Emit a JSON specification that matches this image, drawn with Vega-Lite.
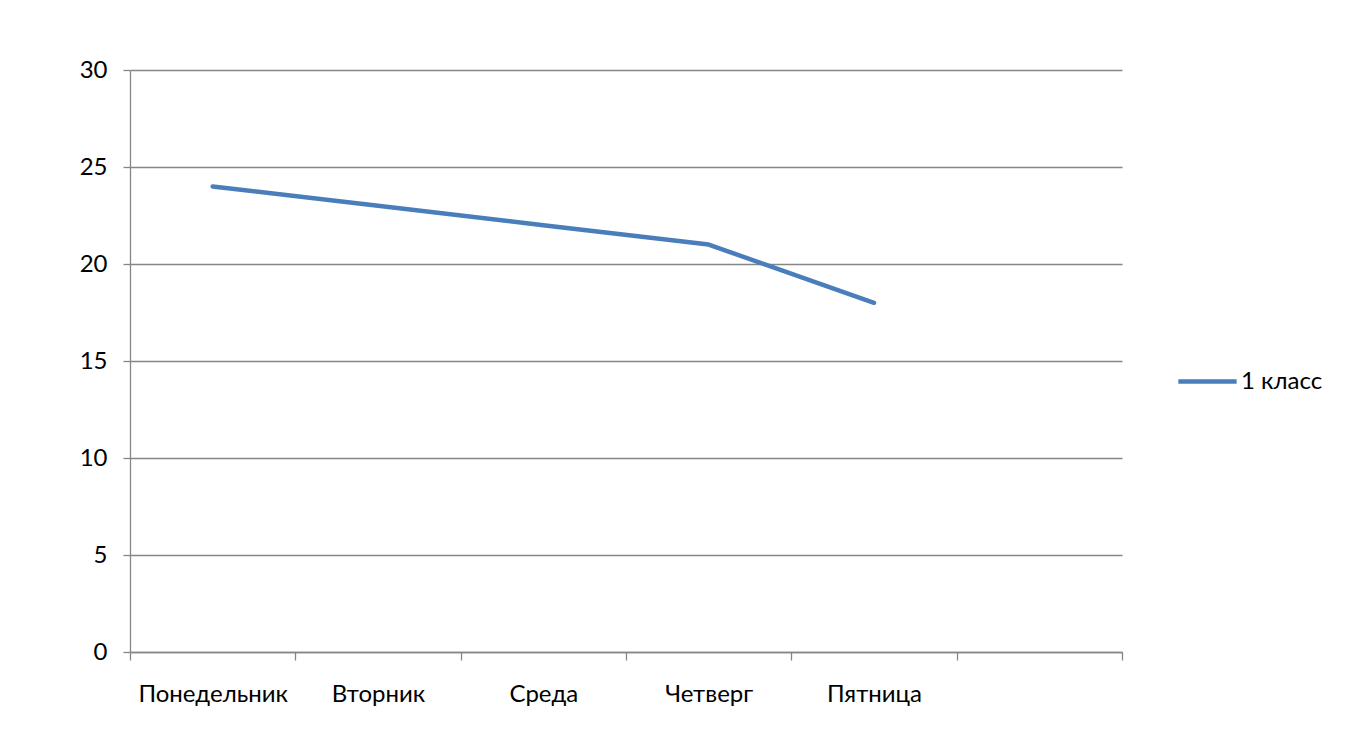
{
  "$schema": "https://vega.github.io/schema/vega-lite/v6.json",
  "width": 992,
  "height": 582,
  "autosize": {"type": "none"},
  "padding": {"left": 130, "top": 70, "right": 235, "bottom": 93},
  "background": "white",
  "config": {
    "view": {"stroke": null},
    "font": "Lato",
    "axis": {"labelFont": "Lato", "labelFontSize": 24, "labelColor": "#000000", "domainColor": "#868686", "tickColor": "#868686", "gridColor": "#868686", "domainWidth": 1.3, "tickWidth": 1.3, "gridWidth": 1.3}
  },
  "data": {
    "values": [
      {"day": "Понедельник", "value": 24, "series": "1 класс"},
      {"day": "Вторник", "value": 23, "series": "1 класс"},
      {"day": "Среда", "value": 22, "series": "1 класс"},
      {"day": "Четверг", "value": 21, "series": "1 класс"},
      {"day": "Пятница", "value": 18, "series": "1 класс"}
    ]
  },
  "mark": {"type": "line", "strokeWidth": 4.5, "strokeCap": "round", "strokeJoin": "round"},
  "encoding": {
    "x": {
      "field": "day",
      "type": "nominal",
      "sort": null,
      "scale": {"type": "band", "domain": ["Понедельник", "Вторник", "Среда", "Четверг", "Пятница", " "], "paddingInner": 0, "paddingOuter": 0},
      "axis": {"title": null, "labelAngle": 0, "tickBand": "extent", "tickSize": 8, "labelPadding": 22, "grid": false}
    },
    "y": {
      "field": "value",
      "type": "quantitative",
      "scale": {"domain": [0, 30], "nice": false, "zero": true},
      "axis": {"title": null, "values": [0, 5, 10, 15, 20, 25, 30], "tickSize": 7, "labelPadding": 16, "grid": true}
    },
    "color": {
      "field": "series",
      "type": "nominal",
      "scale": {"range": ["#4A7EBB"]},
      "legend": {"title": null, "orient": "none", "legendX": 1046, "legendY": 280, "symbolType": "stroke", "symbolSize": 3400, "symbolStrokeWidth": 4.5, "labelFont": "Lato", "labelFontSize": 24, "labelColor": "#000000", "labelOffset": 2}
    }
  }
}
